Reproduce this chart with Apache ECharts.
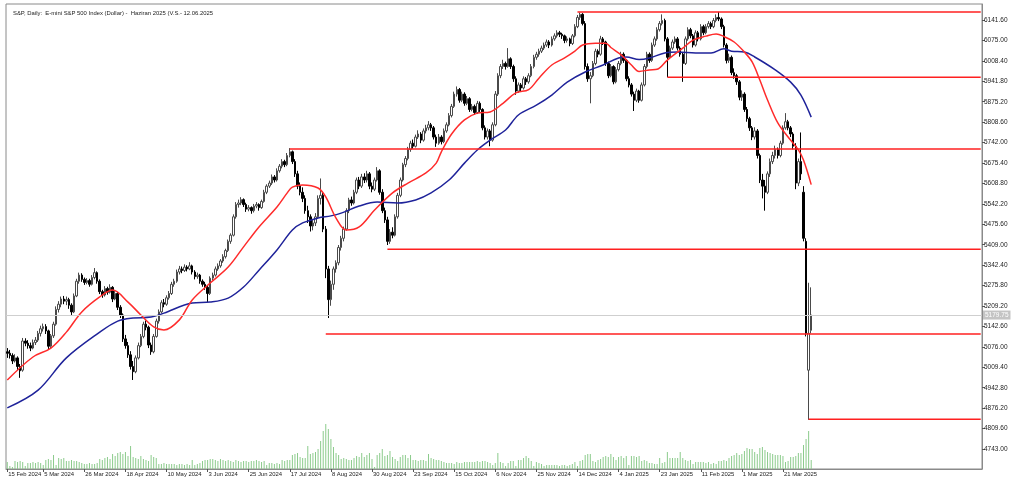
<!DOCTYPE html>
<html><head><meta charset="utf-8">
<script src="https://cdn.jsdelivr.net/npm/echarts@6/dist/echarts.min.js"></script>
<style>html,body{margin:0;padding:0;background:#fff}#c{width:1024px;height:487px}</style>
</head><body><div id="c"></div>
<script>
const chartTitle = 'S&P, Daily:  E-mini S&P 500 Index (Dollar) -  Haziran 2025 (V.S.- 12.06.2025';

const opens = [
5060,5055,5048,5030,5040,5012,5000,5095,5088,5080,
5072,5090,5098,5120,5135,5142,5128,5078,5112,5150,
5198,5215,5232,5225,5230,5212,5190,5242,5290,5310,
5296,5286,5292,5280,5302,5318,5290,5256,5245,5266,
5254,5270,5232,5250,5205,5180,5102,5080,5050,5012,
4995,5040,5080,5110,5150,5140,5082,5060,5110,5160,
5190,5220,5215,5236,5250,5280,5290,5320,5330,5325,
5336,5330,5340,5320,5305,5310,5290,5280,5270,5250,
5300,5310,5330,5340,5356,5370,5390,5420,5440,5500,
5540,5545,5556,5540,5525,5530,5520,5535,5540,5530,
5550,5580,5600,5610,5630,5620,5650,5665,5680,5670,
5700,5712,5680,5640,5600,5580,5560,5520,5500,5470,
5480,5500,5560,5570,5460,5330,5230,5280,5330,5350,
5400,5430,5460,5520,5555,5545,5580,5620,5600,5630,
5620,5640,5600,5590,5620,5650,5580,5520,5490,5420,
5450,5440,5500,5570,5620,5670,5690,5720,5740,5730,
5760,5770,5750,5780,5790,5800,5790,5760,5740,5760,
5745,5780,5800,5830,5860,5900,5915,5880,5900,5870,
5885,5850,5860,5840,5870,5850,5790,5760,5780,5750,
5800,5900,5960,5990,6000,5990,6015,5990,5950,5910,
5930,5920,5950,5940,5960,5990,6020,6030,6040,6050,
6060,6070,6060,6080,6090,6100,6095,6090,6075,6080,
6065,6090,6120,6150,6160,6130,5990,5950,5960,6000,
6040,6030,6080,6070,6000,5960,5990,5940,5980,6000,
6030,6010,5950,5930,5900,5880,5910,5880,5930,5990,
6030,6010,6060,6080,6110,6130,6140,6080,6020,6050,
6070,6080,6050,6030,6000,6080,6110,6090,6060,6100,
6080,6120,6100,6120,6130,6120,6140,6150,6145,6120,
6060,6010,6020,5970,5960,5940,5890,5900,5850,5820,
5790,5760,5780,5700,5620,5600,5580,5640,5680,5700,
5720,5700,5740,5790,5810,5790,5770,5730,5610,5680,
5580,5420,5000,5130];

const highs = [
5072,5066,5055,5052,5045,5020,5105,5104,5098,5090,
5100,5108,5128,5145,5152,5150,5132,5118,5158,5208,
5225,5240,5242,5240,5236,5218,5250,5298,5318,5316,
5302,5300,5298,5310,5333,5322,5296,5262,5274,5272,
5280,5274,5258,5255,5212,5185,5115,5092,5062,5030,
5048,5090,5118,5158,5162,5145,5090,5118,5168,5198,
5228,5232,5244,5258,5288,5298,5328,5340,5338,5345,
5342,5352,5344,5326,5318,5314,5296,5288,5276,5306,
5318,5338,5348,5362,5378,5396,5426,5446,5508,5548,
5556,5564,5560,5546,5538,5534,5542,5548,5544,5556,
5588,5606,5618,5638,5636,5658,5672,5688,5686,5708,
5724,5716,5688,5650,5612,5596,5570,5536,5508,5492,
5512,5570,5625,5578,5470,5340,5292,5338,5358,5408,
5438,5468,5528,5562,5566,5588,5628,5630,5640,5642,
5650,5646,5612,5628,5662,5655,5590,5530,5500,5460,
5466,5508,5578,5628,5676,5698,5728,5748,5752,5768,
5782,5776,5788,5800,5812,5806,5796,5768,5770,5766,
5788,5808,5838,5868,5908,5925,5920,5908,5906,5894,
5890,5868,5866,5878,5876,5854,5798,5788,5786,5808,
5910,5968,5998,6012,6006,6050,6020,5996,5958,5938,
5936,5958,5956,5968,5998,6028,6038,6048,6058,6068,
6078,6076,6088,6098,6108,6106,6100,6094,6088,6084,
6096,6128,6158,6166,6164,6138,6000,5972,6008,6048,
6046,6090,6086,6074,6006,5998,5994,5988,6008,6038,
6036,6014,5958,5936,5908,5918,5914,5938,5998,6038,
6036,6068,6088,6118,6138,6160,6146,6086,6058,6078,
6088,6086,6056,6036,6088,6118,6116,6096,6108,6106,
6128,6126,6128,6138,6136,6148,6160,6168,6150,6126,
6066,6032,6026,5984,5966,5946,5912,5906,5858,5826,
5796,5792,5786,5706,5640,5620,5648,5690,5712,5732,
5726,5748,5798,5838,5816,5796,5776,5740,5690,5775,
5600,5430,5285,5270];

const lows = [
5040,5038,5020,5025,5000,4975,4995,5078,5070,5062,
5068,5082,5092,5110,5126,5118,5068,5070,5105,5145,
5188,5205,5215,5212,5200,5180,5186,5238,5282,5288,
5278,5280,5272,5276,5296,5282,5248,5236,5240,5246,
5250,5222,5228,5196,5170,5092,5070,5040,5002,4968,
4990,5035,5075,5104,5130,5072,5050,5055,5106,5152,
5185,5205,5210,5230,5245,5272,5285,5312,5316,5320,
5322,5326,5312,5296,5298,5282,5272,5262,5222,5245,
5294,5305,5324,5334,5350,5364,5385,5412,5436,5494,
5530,5538,5532,5516,5518,5510,5514,5528,5520,5526,
5546,5574,5594,5604,5612,5615,5644,5658,5662,5665,
5694,5672,5630,5590,5570,5548,5510,5480,5452,5456,
5470,5494,5540,5450,5300,5170,5210,5262,5318,5342,
5390,5420,5455,5512,5536,5540,5574,5590,5594,5610,
5612,5590,5580,5584,5615,5572,5512,5480,5408,5412,
5430,5436,5494,5564,5615,5662,5684,5712,5722,5726,
5754,5740,5745,5772,5782,5780,5752,5728,5735,5736,
5740,5774,5795,5824,5855,5892,5872,5874,5862,5864,
5842,5844,5832,5835,5842,5782,5752,5752,5730,5745,
5795,5894,5952,5982,5980,5986,5982,5940,5898,5904,
5908,5915,5930,5934,5955,5984,6012,6022,6034,6044,
6054,6050,6055,6074,6084,6086,6080,6066,6068,6056,
6060,6085,6115,6142,6124,5980,5940,5870,5955,5994,
6020,6025,6060,5992,5952,5955,5932,5935,5974,5994,
6002,5942,5922,5892,5845,5874,5872,5876,5925,5984,
6002,6005,6054,6074,6104,6124,6072,5955,6014,6044,
6064,6042,6022,5940,5995,6074,6082,6052,6055,6072,
6075,6092,6095,6114,6112,6115,6134,6138,6112,6052,
6000,6002,5962,5950,5930,5880,5878,5842,5810,5780,
5750,5752,5690,5610,5560,5520,5574,5630,5672,5690,
5690,5694,5735,5784,5782,5760,5720,5590,5600,5620,
5420,5110,4838,5120];

const closes = [
5055,5048,5030,5040,5012,4998,5095,5088,5080,5072,
5090,5098,5120,5135,5142,5128,5078,5112,5150,5198,
5215,5232,5225,5230,5212,5190,5242,5290,5310,5296,
5286,5292,5280,5302,5318,5290,5256,5245,5266,5254,
5270,5232,5250,5205,5180,5102,5080,5050,5012,4995,
5040,5080,5110,5150,5140,5082,5060,5110,5160,5190,
5220,5215,5236,5250,5280,5290,5320,5330,5325,5336,
5330,5340,5320,5305,5310,5290,5280,5270,5250,5300,
5310,5330,5340,5356,5370,5390,5420,5440,5500,5540,
5545,5556,5540,5525,5530,5520,5535,5540,5530,5550,
5580,5600,5610,5630,5620,5650,5665,5680,5670,5700,
5712,5680,5640,5600,5580,5560,5520,5500,5470,5480,
5500,5560,5570,5460,5330,5230,5280,5330,5350,5400,
5430,5460,5520,5555,5545,5580,5620,5600,5630,5620,
5640,5600,5590,5620,5650,5580,5520,5490,5420,5450,
5440,5500,5570,5620,5670,5690,5720,5740,5730,5760,
5770,5750,5780,5790,5800,5790,5760,5740,5760,5745,
5780,5800,5830,5860,5900,5915,5880,5900,5870,5885,
5850,5860,5840,5870,5850,5790,5760,5780,5750,5800,
5900,5960,5990,6000,5990,6015,5990,5950,5910,5930,
5920,5950,5940,5960,5990,6020,6030,6040,6050,6060,
6070,6060,6080,6090,6100,6095,6090,6075,6080,6065,
6090,6120,6150,6160,6130,5990,5950,5960,6000,6040,
6030,6080,6070,6000,5960,5990,5940,5980,6000,6030,
6010,5950,5930,5900,5880,5910,5880,5930,5990,6030,
6010,6060,6080,6110,6130,6140,6080,6020,6050,6070,
6080,6050,6030,6000,6080,6110,6090,6060,6100,6080,
6120,6100,6120,6130,6120,6140,6150,6145,6120,6060,
6010,6020,5970,5960,5940,5890,5900,5850,5820,5790,
5760,5780,5700,5620,5600,5580,5640,5680,5700,5720,
5700,5740,5790,5810,5790,5770,5730,5610,5680,5640,
5430,5120,5120,5180];

const volumes = [
7,3,2,8,7,8,7,3,6,6,
7,6,7,6,4,9,10,9,14,4,
11,10,11,8,8,9,8,8,7,6,
5,5,6,5,5,6,10,9,11,12,
10,15,13,16,17,15,17,13,23,12,
11,10,13,10,9,8,14,12,11,5,
5,6,5,5,5,5,4,5,5,4,
5,4,9,4,5,6,8,9,9,10,
10,9,8,10,9,8,9,8,7,9,
8,7,8,8,7,8,8,9,8,7,
8,4,6,6,5,6,5,9,8,9,
9,14,15,16,12,11,11,23,15,16,
17,20,28,38,45,40,30,22,16,14,
10,11,10,9,9,11,13,12,16,12,
14,16,10,2,14,16,20,13,14,18,
12,10,8,12,14,14,11,14,9,9,
8,9,9,8,15,11,10,9,9,8,
7,6,6,6,5,7,6,6,7,7,
7,7,7,8,7,8,8,7,6,4,
6,16,7,6,3,6,8,8,3,9,
9,11,13,11,8,3,7,6,5,3,
4,4,4,4,4,3,4,4,3,4,
5,7,3,8,9,14,15,15,8,7,
9,10,12,13,12,15,12,9,12,13,
11,13,4,13,13,12,13,8,9,8,
6,6,5,5,11,6,7,17,11,11,
11,11,17,11,9,8,9,5,7,7,
7,7,6,7,5,6,5,8,8,9,
8,11,13,14,16,14,15,18,21,20,
20,17,15,21,22,19,17,16,15,14,
14,14,13,7,8,12,12,13,16,16,
24,30,38,9];

const redMA = [[0,4968],[10,5043],[17,5072],[23,5124],[29,5190],[36,5239],[41,5261],[47,5222],[52,5180],[57,5141],[61,5131],[67,5164],[72,5229],[79,5284],[86,5336],[92,5402],[98,5467],[105,5532],[109,5578],[111,5597],[115,5604],[121,5594],[124,5565],[128,5496],[132,5457],[137,5467],[143,5522],[150,5578],[156,5610],[163,5643],[167,5675],[169,5712],[173,5770],[178,5816],[183,5838],[188,5842],[193,5870],[198,5904],[203,5915],[207,5952],[212,5995],[217,6018],[221,6040],[224,6060],[229,6066],[233,6066],[235,6052],[239,6028],[243,5995],[246,5974],[250,5979],[253,5981],[257,6011],[263,6050],[267,6076],[272,6089],[276,6096],[279,6088],[283,6070],[287,6037],[290,6005],[293,5946],[296,5881],[300,5806],[304,5760],[308,5718],[310,5685],[313,5605]];

const blueMA = [[0,4877],[12,4935],[23,5040],[36,5124],[43,5160],[49,5170],[56,5173],[61,5186],[72,5219],[79,5222],[86,5235],[92,5271],[98,5326],[105,5392],[111,5457],[115,5480],[121,5496],[126,5503],[130,5512],[137,5535],[144,5548],[152,5545],[159,5555],[165,5578],[172,5620],[178,5675],[183,5718],[188,5750],[194,5783],[199,5832],[206,5864],[212,5897],[218,5939],[225,5972],[232,5995],[238,6018],[241,6021],[246,6013],[250,6018],[256,6034],[261,6037],[268,6034],[274,6034],[279,6048],[282,6040],[287,6037],[291,6021],[299,5979],[305,5939],[309,5897],[313,5825]];

const levelPrices = [6168, 5955, 5721, 5394, 5118, 4840];
const levelStartBars = [222, 257, 110, 148, 124, 312];
const currentPrice = 5179.75;

const priceTicks = [4743.0, 4809.6, 4876.2, 4942.8, 5009.4, 5076.0, 5142.6, 5209.2, 5275.8, 5342.4, 5409.0, 5475.6, 5542.2, 5608.8, 5675.4, 5742.0, 5808.6, 5875.2, 5941.8, 6008.4, 6075.0, 6141.6];
const dateTickLabels = ['15 Feb 2024','5 Mar 2024','26 Mar 2024','18 Apr 2024','10 May 2024','3 Jun 2024','25 Jun 2024','17 Jul 2024','8 Aug 2024','30 Aug 2024','23 Sep 2024','15 Oct 2024','6 Nov 2024','25 Nov 2024','14 Dec 2024','4 Jan 2025','23 Jan 2025','11 Feb 2025','1 Mar 2025','21 Mar 2025'];
const dateTickBars = [0,14,30,46,62,78,94,110,126,142,158,174,190,206,222,238,254,270,286,302];

const totalSlots = 380;
const slots = Array.from({length: totalSlots}, (_, i) => String(i));
const labelAt = {};
dateTickBars.forEach((b, k) => { labelAt[b] = dateTickLabels[k]; });
const isTick = (idx) => labelAt[idx] !== undefined;

const candleData = opens.map((o, i) => [o, closes[i], lows[i], highs[i]]);
const FONT = 'Liberation Sans';

const levelSeries = levelPrices.map((p, k) => ({
  type: 'line', data: [[String(levelStartBars[k]), p], [String(totalSlots - 1), p]],
  showSymbol: false, symbol: 'none', silent: true, z: 4,
  itemStyle: { color: '#ff2020' },
  lineStyle: { color: '#ff2020', width: 1.5 }
}));

const chart = echarts.init(document.getElementById('c'), null, {renderer: 'canvas'});
chart.setOption({
  animation: false,
  backgroundColor: '#ffffff',
  title: { text: chartTitle, left: 8, top: 5, textStyle: { fontSize: 5.9, fontWeight: 'normal', color: '#222', fontFamily: FONT } },
  grid: { left: 6, right: 42, top: 4, bottom: 18, show: true, borderColor: '#8a8a8a', borderWidth: 1 },
  xAxis: {
    type: 'category', data: slots, boundaryGap: true,
    axisLine: { show: true, lineStyle: { color: '#8a8a8a' } },
    axisTick: { show: true, interval: isTick, alignWithLabel: true, length: 3, lineStyle: { color: '#555' } },
    axisLabel: { interval: isTick, showMinLabel: true, hideOverlap: false, formatter: (v, i) => labelAt[i] || '', align: 'left', padding: [0,0,0,1], margin: 2, fontSize: 5.9, color: '#222', fontFamily: FONT },
    splitLine: { show: false }
  },
  yAxis: [{
    type: 'value', position: 'right', min: 4677.8, max: 6193.8,
    axisLine: { show: true, lineStyle: { color: '#8a8a8a' } },
    axisTick: { show: true, customValues: priceTicks, length: 3, lineStyle: { color: '#555' } },
    axisLabel: { customValues: priceTicks, formatter: v => v.toFixed(2), margin: 2, fontSize: 6.5, color: '#222', fontFamily: FONT },
    splitLine: { show: false }
  }, {
    type: 'value', min: 0, max: 465, show: false
  }],
  series: [
    { type: 'bar', yAxisIndex: 1, data: volumes, barWidth: 1, itemStyle: { color: '#8ccb8c' }, silent: true, z: 1 },
    { type: 'line', data: blueMA, smooth: 0.35, showSymbol: false, symbol: 'none', lineStyle: { color: '#1f239a', width: 1.5 }, z: 3 },
    { type: 'line', data: redMA, smooth: 0.35, showSymbol: false, symbol: 'none', lineStyle: { color: '#ff2b2b', width: 1.5 }, z: 3 },
    ...levelSeries,
    { type: 'candlestick', data: candleData, barWidth: 2,
      itemStyle: { color: '#ffffff', color0: '#000000', borderColor: '#4a4a4a', borderColor0: '#000000', borderWidth: 1 },
      z: 2,
      markLine: {
        silent: true, symbol: ['none', 'none'], animation: false,
        data: [
          { yAxis: currentPrice, lineStyle: { color: '#cfcfcf', width: 1, type: 'solid' },
            label: { show: true, position: 'end', formatter: currentPrice.toFixed(2), backgroundColor: '#c4c4c4', color: '#ffffff', fontSize: 6.5, padding: [1, 2], distance: 1, fontFamily: FONT } }
        ]
      }
    }
  ]
});
</script>
</body></html>
